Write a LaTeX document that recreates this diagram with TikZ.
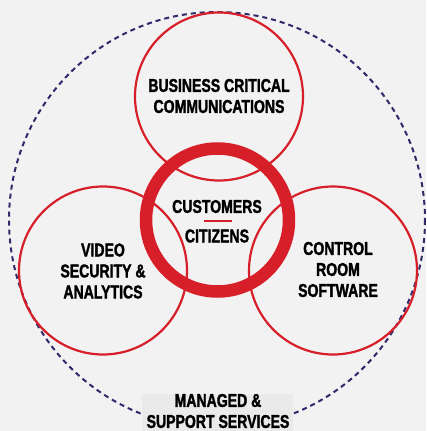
\documentclass[tikz,border=0pt]{standalone}
\usepackage{fontspec}
\newfontfamily\venfont{LiberationSans-Bold}[Extension=.ttf, FakeStretch=0.76, FakeBold=1.6]
\usetikzlibrary{calc}
\definecolor{venred}{HTML}{D71F2A}
\definecolor{vennavy}{HTML}{2E2A6B}
\definecolor{vengray}{HTML}{F2F2F2}
\definecolor{venbox}{HTML}{EAEAEA}
\tikzset{
  ring/.style={draw=venred, line width=2.2pt},
  corering/.style={draw=venred, line width=12.5pt},
  outerring/.style={draw=vennavy, line width=2pt, dash pattern=on 5pt off 4pt},
  label/.style={align=center, font=\venfont\fontsize{18.5}{21}\selectfont, text=black, inner sep=0pt},
  redbar/.style={draw=venred, line width=2pt}
}
\begin{document}
\begin{tikzpicture}[x=1pt,y=-1pt]
  \fill[vengray] (0,0) rectangle (426,431);
  \useasboundingbox (0,0) rectangle (426,431);
  % outer service ring
  \draw[outerring] (217,220) circle [radius=208];
  % three pillars
  \draw[ring] (219,96.5) circle [radius=84];
  \draw[ring] (103,270.5) circle [radius=84];
  \draw[ring] (333,270.5) circle [radius=84];
  % core
  \draw[corering] (217.5,220) circle [radius=71.5];
  \node[label] (bcc) at (219,96) {BUSINESS CRITICAL\\COMMUNICATIONS};
  \node[label] (vsa) at (103,271) {VIDEO\\SECURITY \&\\ANALYTICS};
  \node[label] (crs) at (338,269.5) {CONTROL\\ROOM\\SOFTWARE};
  \node[label] (cust) at (217,206.5) {CUSTOMERS};
  \node[label] (citz) at (217,236) {CITIZENS};
  \coordinate (bar) at (218,221);
  \draw[redbar] ([xshift=-14pt]bar) -- ([xshift=14pt]bar);
  % managed services tag
  \fill[venbox] (142,394) rectangle (293,431);
  \node[label] (mss) at (218,411) {MANAGED \&\\SUPPORT SERVICES};
\end{tikzpicture}
\end{document}
